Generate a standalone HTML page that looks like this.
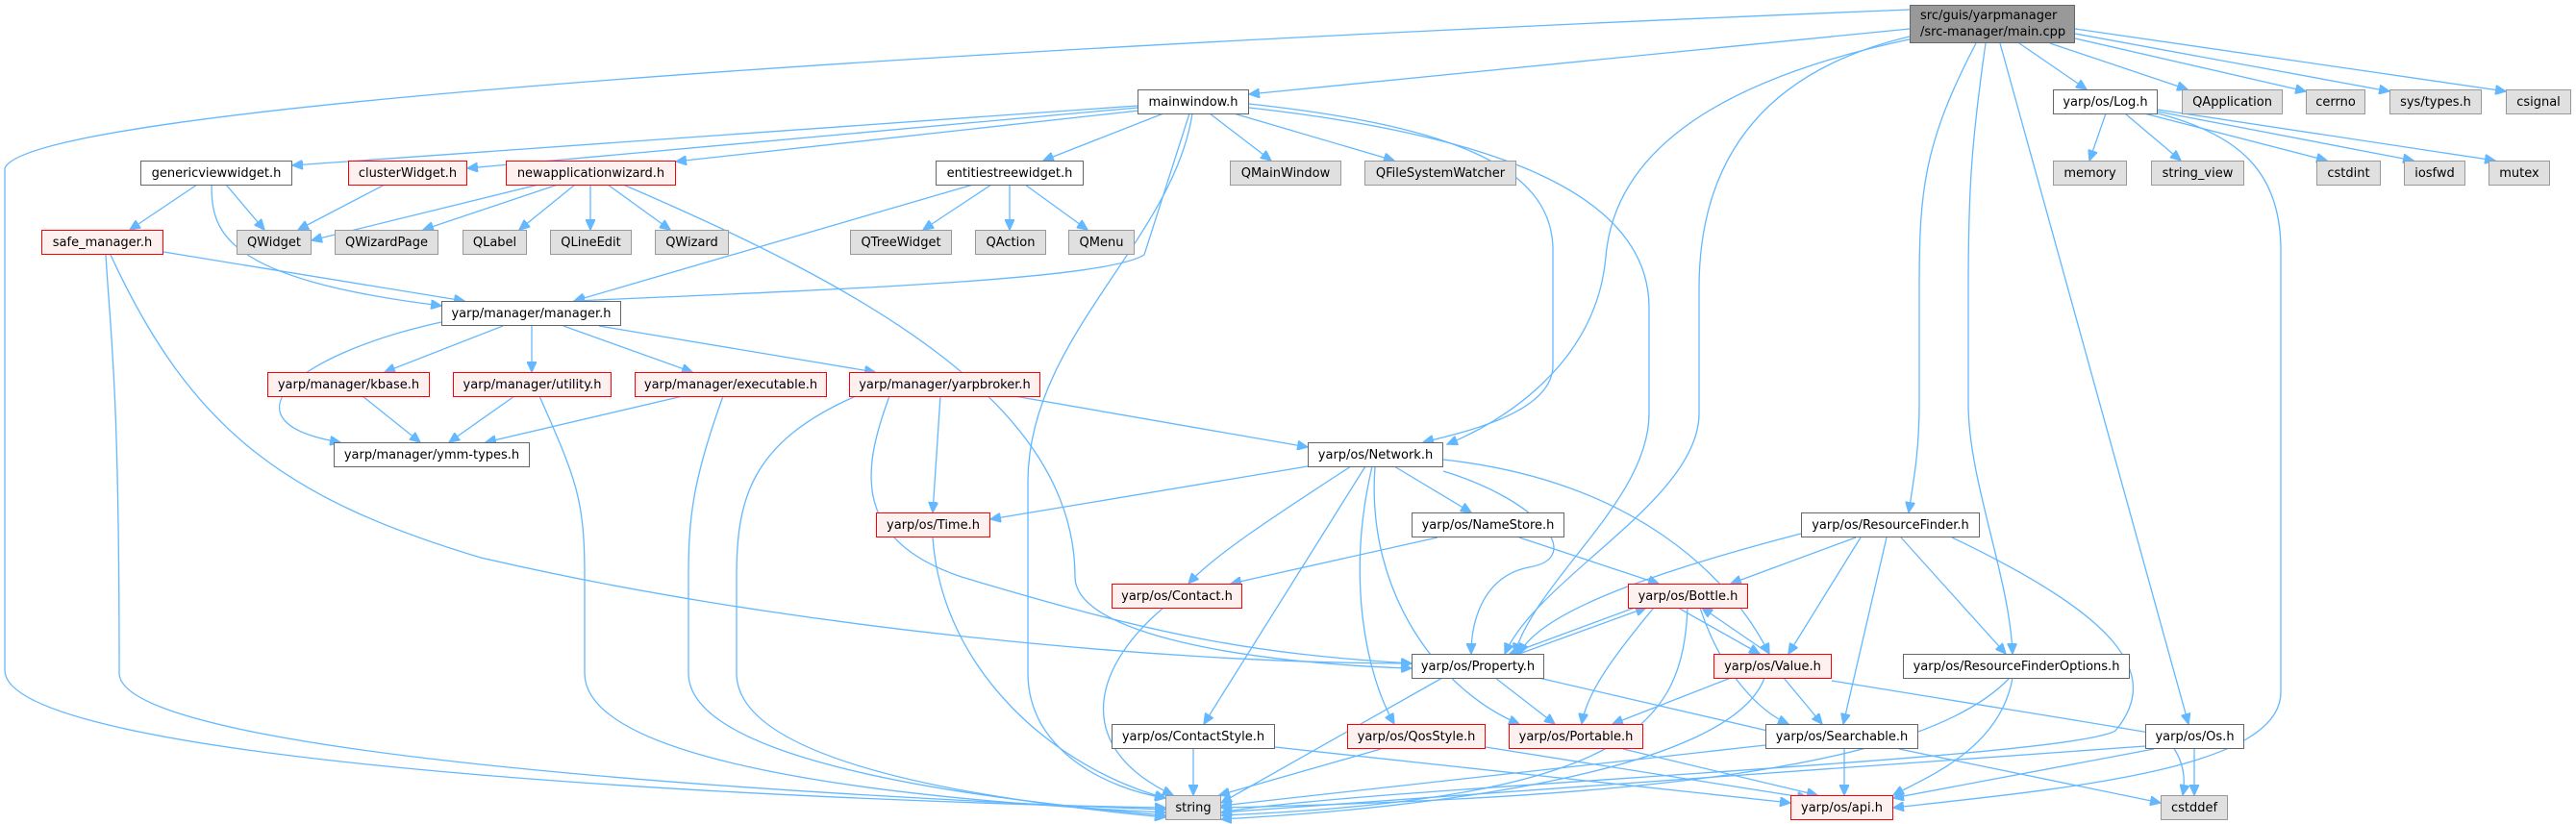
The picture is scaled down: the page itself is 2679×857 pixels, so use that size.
<!DOCTYPE html>
<html><head><meta charset="utf-8"><style>
body{margin:0;width:2679px;height:857px;background:#fff;position:relative;overflow:hidden;font-family:"DejaVu Sans","Liberation Sans",sans-serif}
.n{position:absolute;box-sizing:border-box;display:flex;align-items:center;justify-content:center;font-size:13px;color:#000;white-space:nowrap;height:26px}
.w{background:#fff;border:1.5px solid #666}
.r{background:#fff0f0;border:1.5px solid #f00}
.g{background:#e0e0e0;border:1.5px solid #999}
svg{position:absolute;left:0;top:0}
path{fill:none;stroke:#63b8ff;stroke-width:1.3}
</style></head><body>
<svg width="2679" height="857">
<defs><marker id="a" markerUnits="userSpaceOnUse" markerWidth="12" markerHeight="10" refX="11" refY="5" orient="auto"><path d="M0,0 L11,5 L0,10 z" style="fill:#63b8ff;stroke:#63b8ff"/></marker></defs>
<g marker-end="url(#a)">
<path d="M1986,30 L1299,98"/>
<path d="M1990,40 C1800,80 1680,150 1670,267 C1660,380 1560,440 1505,462"/>
<path d="M1986,38 C1850,70 1767,150 1767,300 L1767,430 C1767,520 1600,600 1565,680"/>
<path d="M2055,45 C2000,150 1996,200 1996,300 L1996,420 C1996,470 1990,500 1985,533"/>
<path d="M2065,45 C2050,150 2047,200 2047,300 L2047,420 C2047,500 2090,600 2093,680"/>
<path d="M2080,45 L2276,753"/>
<path d="M2100,45 L2170,93"/>
<path d="M2132,45 L2275,93"/>
<path d="M2158,40 L2398,95"/>
<path d="M2158,35 L2485,95"/>
<path d="M2158,30 L2606,95"/>
<path d="M1986,10 C1000,50 30,110 5,175 L5,697 C5,800 900,835 1212,840"/>
<path d="M1183,110 L304,172"/>
<path d="M1183,112 L486,175"/>
<path d="M1185,115 L703,168"/>
<path d="M1210,118 L1085,167"/>
<path d="M1258,118 L1322,167"/>
<path d="M1283,118 L1450,167"/>
<path d="M1237,118 L1190,265 C1150,290 900,300 597,313"/>
<path d="M1240,118 C1220,250 1070,350 1069,500 L1069,700 C1069,780 1150,820 1212,830"/>
<path d="M1299,108 C1500,130 1615,170 1615,260 L1615,380 C1615,430 1520,450 1480,460"/>
<path d="M1299,112 C1550,140 1715,200 1715,320 L1715,430 C1715,520 1600,600 1575,680"/>
<path d="M205,192 L135,239"/>
<path d="M235,192 L275,239"/>
<path d="M220,192 C220,240 230,290 459,318"/>
<path d="M400,192 L310,239"/>
<path d="M560,192 L324,250"/>
<path d="M580,192 L440,239"/>
<path d="M598,192 L540,239"/>
<path d="M614,192 L614,239"/>
<path d="M632,192 L697,239"/>
<path d="M648,192 C900,300 1118,420 1118,600 C1118,660 1300,690 1468,695"/>
<path d="M1031,192 L960,239"/>
<path d="M1050,192 L1050,239"/>
<path d="M1066,192 L1131,239"/>
<path d="M1012,192 L597,313"/>
<path d="M170,262 L483,313"/>
<path d="M110,265 C115,350 124,400 124,700 C124,790 900,830 1212,842"/>
<path d="M115,265 C200,450 300,520 500,580 C800,650 1200,690 1468,690"/>
<path d="M523,339 L400,387"/>
<path d="M553,339 L553,387"/>
<path d="M586,339 L720,387"/>
<path d="M623,339 L910,387"/>
<path d="M459,335 C300,370 230,440 354,460"/>
<path d="M377,412 L437,460"/>
<path d="M535,412 L467,460"/>
<path d="M561,412 C600,500 608,520 608,600 L608,700 C608,790 900,830 1212,845"/>
<path d="M710,412 L505,460"/>
<path d="M752,412 C720,500 716,540 716,600 L716,700 C716,790 1000,830 1212,848"/>
<path d="M890,412 C780,460 766,520 766,600 L766,700 C766,790 1000,830 1212,850"/>
<path d="M978,412 L970,533"/>
<path d="M1055,412 L1360,465"/>
<path d="M925,412 C900,480 880,560 1000,600 C1200,660 1300,680 1468,690"/>
<path d="M2190,118 L2173,167"/>
<path d="M2210,118 L2268,167"/>
<path d="M2230,118 L2420,167"/>
<path d="M2244,116 L2510,167"/>
<path d="M2244,114 L2595,167"/>
<path d="M2244,118 C2330,140 2372,180 2372,260 L2372,720 C2372,800 2150,820 1969,840"/>
<path d="M1360,485 L1030,540"/>
<path d="M1405,485 C1320,540 1260,580 1236,607"/>
<path d="M1420,485 L1252,753"/>
<path d="M1427,485 C1400,600 1420,700 1450,753"/>
<path d="M1430,485 C1420,620 1500,720 1580,753"/>
<path d="M1450,485 L1530,533"/>
<path d="M1501,490 C1600,520 1650,580 1590,590 C1540,600 1530,650 1530,680"/>
<path d="M1501,478 C1700,500 1800,600 1840,680"/>
<path d="M1495,559 L1280,607"/>
<path d="M1580,559 L1725,607"/>
<path d="M1930,559 L1800,607"/>
<path d="M1873,555 C1700,600 1600,640 1580,680"/>
<path d="M1935,559 L1860,680"/>
<path d="M1962,559 L1917,753"/>
<path d="M1977,559 L2086,680"/>
<path d="M2030,559 C2200,640 2250,700 2200,760 C2150,790 1400,820 1270,845"/>
<path d="M1700,632 L1570,680"/>
<path d="M1580,680 L1712,632"/>
<path d="M1745,632 L1830,680"/>
<path d="M1840,680 L1770,632"/>
<path d="M1720,632 C1680,680 1650,720 1645,753"/>
<path d="M1768,632 C1790,700 1830,740 1860,753"/>
<path d="M1755,632 C1750,750 1700,830 1270,848"/>
<path d="M1500,705 L1270,835"/>
<path d="M1555,705 L1617,753"/>
<path d="M1600,705 L1860,765"/>
<path d="M1800,705 L1677,753"/>
<path d="M1855,705 L1895,753"/>
<path d="M1835,705 C1800,800 1500,840 1270,852"/>
<path d="M1905,708 C2100,740 2230,760 2250,765 C2265,780 2275,800 2270,827"/>
<path d="M2090,705 C2000,800 1700,830 1270,840"/>
<path d="M2093,705 C2080,780 2000,810 1969,827"/>
<path d="M970,559 C980,700 1100,800 1212,830"/>
<path d="M1210,632 C1130,700 1120,780 1220,827"/>
<path d="M1241,779 L1241,827"/>
<path d="M1326,777 L1862,835"/>
<path d="M1436,779 L1268,827"/>
<path d="M1545,777 L1880,830"/>
<path d="M1688,779 L1890,827"/>
<path d="M1918,779 L1918,827"/>
<path d="M1975,779 L2247,835"/>
<path d="M1836,775 L1270,838"/>
<path d="M2231,776 L1270,845"/>
<path d="M2240,779 L1969,830"/>
<path d="M2282,779 L2282,827"/>
</g>
</svg>
<div class="n g" style="left:1986px;top:5px;width:172px;height:40px;background:#999;border-color:#666;flex-direction:column;line-height:17px;align-items:flex-start;padding-left:10px">src/guis/yarpmanager<br>/src-manager/main.cpp</div>
<div class="n w" style="left:1183px;top:93px;width:116px">mainwindow.h</div>
<div class="n w" style="left:2135px;top:93px;width:109px">yarp/os/Log.h</div>
<div class="n g" style="left:2269px;top:93px;width:105px">QApplication</div>
<div class="n g" style="left:2398px;top:93px;width:62px">cerrno</div>
<div class="n g" style="left:2485px;top:93px;width:96px">sys/types.h</div>
<div class="n g" style="left:2606px;top:93px;width:68px">csignal</div>
<div class="n w" style="left:146px;top:167px;width:158px">genericviewwidget.h</div>
<div class="n r" style="left:362px;top:167px;width:124px">clusterWidget.h</div>
<div class="n r" style="left:526px;top:167px;width:177px">newapplicationwizard.h</div>
<div class="n w" style="left:973px;top:167px;width:154px">entitiestreewidget.h</div>
<div class="n g" style="left:1279px;top:167px;width:116px">QMainWindow</div>
<div class="n g" style="left:1419px;top:167px;width:158px">QFileSystemWatcher</div>
<div class="n g" style="left:2135px;top:167px;width:77px">memory</div>
<div class="n g" style="left:2237px;top:167px;width:97px">string_view</div>
<div class="n g" style="left:2409px;top:167px;width:67px">cstdint</div>
<div class="n g" style="left:2500px;top:167px;width:64px">iosfwd</div>
<div class="n g" style="left:2588px;top:167px;width:64px">mutex</div>
<div class="n r" style="left:43px;top:239px;width:127px">safe_manager.h</div>
<div class="n g" style="left:246px;top:239px;width:78px">QWidget</div>
<div class="n g" style="left:348px;top:239px;width:108px">QWizardPage</div>
<div class="n g" style="left:481px;top:239px;width:67px">QLabel</div>
<div class="n g" style="left:572px;top:239px;width:85px">QLineEdit</div>
<div class="n g" style="left:681px;top:239px;width:77px">QWizard</div>
<div class="n g" style="left:884px;top:239px;width:106px">QTreeWidget</div>
<div class="n g" style="left:1014px;top:239px;width:74px">QAction</div>
<div class="n g" style="left:1111px;top:239px;width:69px">QMenu</div>
<div class="n w" style="left:459px;top:313px;width:187px">yarp/manager/manager.h</div>
<div class="n r" style="left:278px;top:387px;width:169px">yarp/manager/kbase.h</div>
<div class="n r" style="left:471px;top:387px;width:165px">yarp/manager/utility.h</div>
<div class="n r" style="left:660px;top:387px;width:200px">yarp/manager/executable.h</div>
<div class="n r" style="left:883px;top:387px;width:199px">yarp/manager/yarpbroker.h</div>
<div class="n w" style="left:347px;top:460px;width:204px">yarp/manager/ymm-types.h</div>
<div class="n w" style="left:1360px;top:460px;width:141px">yarp/os/Network.h</div>
<div class="n r" style="left:911px;top:533px;width:119px">yarp/os/Time.h</div>
<div class="n w" style="left:1468px;top:533px;width:159px">yarp/os/NameStore.h</div>
<div class="n w" style="left:1873px;top:533px;width:186px">yarp/os/ResourceFinder.h</div>
<div class="n r" style="left:1156px;top:607px;width:136px">yarp/os/Contact.h</div>
<div class="n r" style="left:1693px;top:607px;width:125px">yarp/os/Bottle.h</div>
<div class="n w" style="left:1468px;top:680px;width:138px">yarp/os/Property.h</div>
<div class="n r" style="left:1782px;top:680px;width:123px">yarp/os/Value.h</div>
<div class="n w" style="left:1979px;top:680px;width:236px">yarp/os/ResourceFinderOptions.h</div>
<div class="n w" style="left:1156px;top:753px;width:170px">yarp/os/ContactStyle.h</div>
<div class="n r" style="left:1401px;top:753px;width:144px">yarp/os/QosStyle.h</div>
<div class="n r" style="left:1569px;top:753px;width:140px">yarp/os/Portable.h</div>
<div class="n w" style="left:1836px;top:753px;width:159px">yarp/os/Searchable.h</div>
<div class="n w" style="left:2231px;top:753px;width:103px">yarp/os/Os.h</div>
<div class="n g" style="left:1212px;top:827px;width:58px">string</div>
<div class="n r" style="left:1862px;top:827px;width:107px">yarp/os/api.h</div>
<div class="n g" style="left:2247px;top:827px;width:70px">cstddef</div>
</body></html>
